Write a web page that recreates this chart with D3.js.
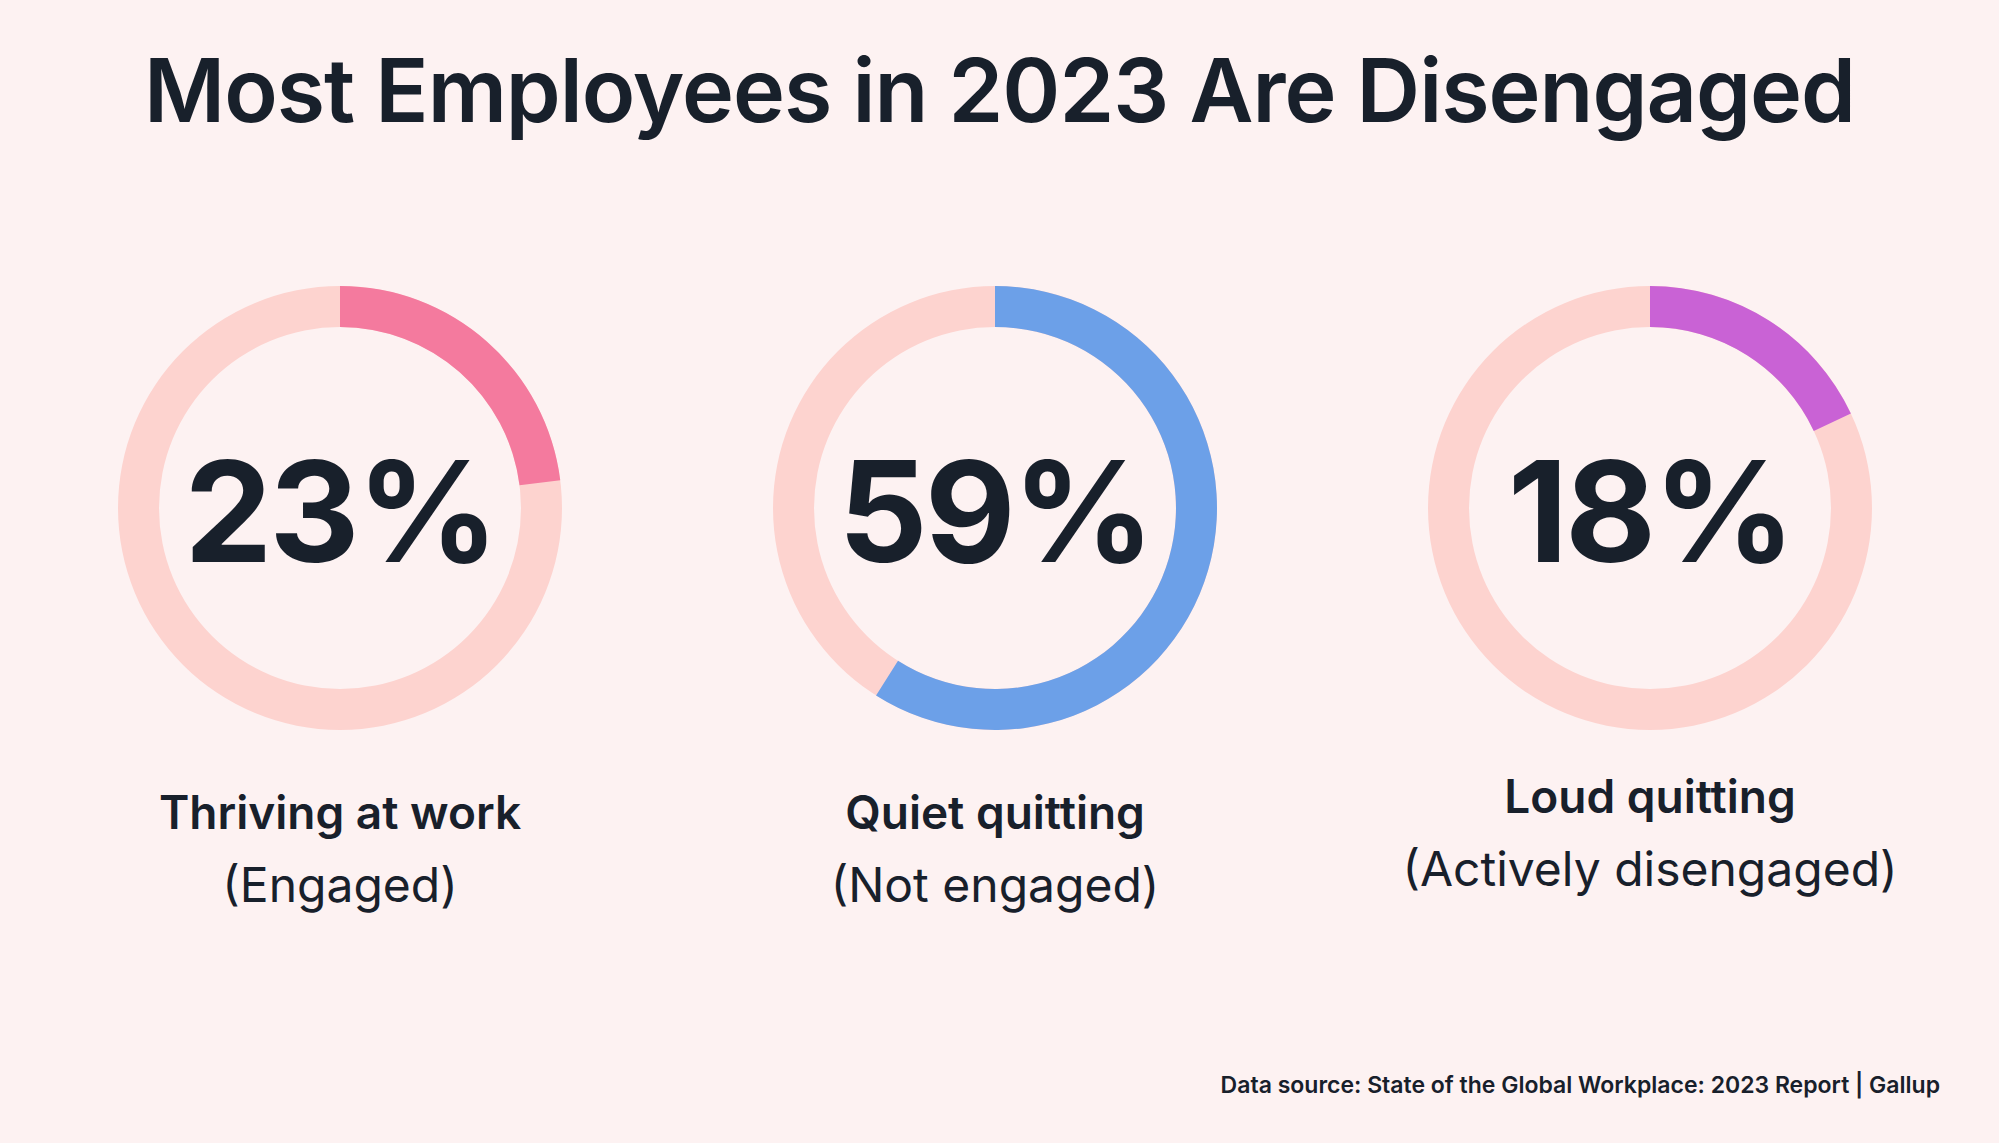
<!DOCTYPE html>
<html><head><meta charset="utf-8">
<script src="https://cdn.jsdelivr.net/npm/d3@7"></script>
<style>body{margin:0;background:#fdf2f2}svg{display:block}</style></head>
<body><svg id="c" width="1999" height="1143"></svg>
<script>
const categories = ["Thriving at work","Quiet quitting","Loud quitting"];
const subLabels = ["(Engaged)","(Not engaged)","(Actively disengaged)"];
const values = [23,59,18];
const colors = ["#f47a9e","#6ca0e8","#c962d5"];
const labelOffsets = [0,0,-16];

const svg = d3.select("#c");
const W=1999;
svg.append("rect").attr("width",W).attr("height",1143).attr("fill","#fdf2f2");
const font="Inter, 'Open Sans', sans-serif";
const ink="#18202b";
svg.append("text").attr("x",W/2).attr("y",122).attr("text-anchor","middle")
  .attr("font-family",font).attr("font-weight",600).attr("font-size",88)
  .attr("fill",ink).attr("letter-spacing",-1).text("Most Employees in 2023 Are Disengaged");

const x = d3.scalePoint().domain(categories).range([340,1650]);
const ang = d3.scaleLinear().domain([0,100]).range([0,2*Math.PI]);
const arc = d3.arc().innerRadius(181).outerRadius(222);
const cy=508;
categories.forEach((c,i)=>{
  const g=svg.append("g").attr("transform",`translate(${x(c)},${cy})`);
  g.append("path").attr("d",arc({startAngle:0,endAngle:2*Math.PI})).attr("fill","#fdd3cf");
  g.append("path").attr("d",arc({startAngle:0,endAngle:ang(values[i])})).attr("fill",colors[i]);
  g.append("text").attr("y",54).attr("text-anchor","middle").attr("font-family",font)
    .attr("font-weight",700).attr("font-size",140).attr("letter-spacing",-3).attr("fill",ink).text(values[i]+"%");
  g.append("text").attr("y",829-cy+labelOffsets[i]).attr("text-anchor","middle").attr("font-family",font)
    .attr("font-weight",600).attr("font-size",46).attr("fill",ink).text(c);
  g.append("text").attr("y",902-cy+labelOffsets[i]).attr("text-anchor","middle").attr("font-family",font)
    .attr("font-weight",400).attr("font-size",48).attr("fill",ink).text(subLabels[i]);
});
svg.append("text").attr("x",1940).attr("y",1093).attr("text-anchor","end").attr("font-family",font)
  .attr("font-weight",600).attr("font-size",23).attr("fill",ink)
  .text("Data source: State of the Global Workplace: 2023 Report | Gallup");
</script></body></html>
